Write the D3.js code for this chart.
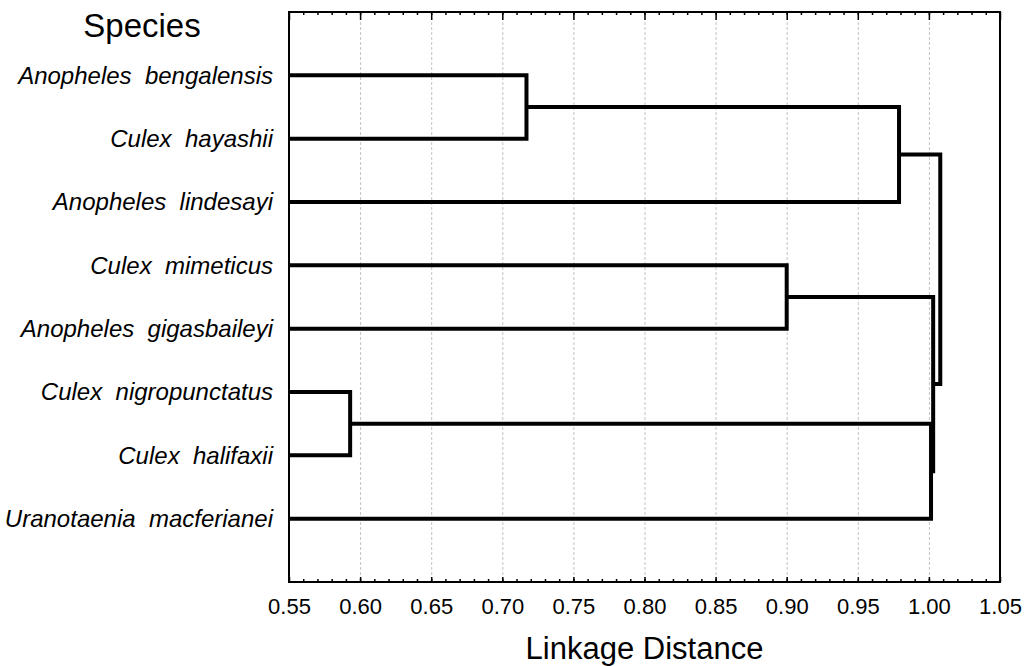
<!DOCTYPE html>
<html>
<head>
<meta charset="utf-8">
<script src="https://cdn.jsdelivr.net/npm/d3@7"></script>
<style>
  body { margin: 0; background: #fff; }
  svg text { font-family: Arial, "Liberation Sans", sans-serif; fill: #000; }
  .grid line { stroke: #c4c4c4; stroke-width: 1; stroke-dasharray: 3,2; }
  .grid path { display: none; }
  .axis path { display: none; }
  .axis line { stroke: #000; stroke-width: 1.5; }
  .link { fill: none; stroke: #000; stroke-width: 4; stroke-linejoin: miter; }
</style>
</head>
<body>
<div id="chart"></div>
<script>
// leaves, top to bottom
var species = [
    "Anopheles  bengalensis",
    "Culex  hayashii",
    "Anopheles  lindesayi",
    "Culex  mimeticus",
    "Anopheles  gigasbaileyi",
    "Culex  nigropunctatus",
    "Culex  halifaxii",
    "Uranotaenia  macferianei"
];

// linkage table: node 8 is the first merge, node 9 the second, ...
var mergeLeft  = [0, 8, 3, 5, 11, 10, 9];
var mergeRight = [1, 2, 4, 6, 7, 12, 13];
var mergeDist  = [0.717, 0.979, 0.900, 0.593, 1.0015, 1.003, 1.008];

var xTicks = [0.55, 0.60, 0.65, 0.70, 0.75, 0.80, 0.85, 0.90, 0.95, 1.00, 1.05];

// margin convention
var margin = {top: 12, right: 27, bottom: 84, left: 289}
  , width = 1027 - margin.left - margin.right
  , height = 666 - margin.top - margin.bottom;

var xScale = d3.scaleLinear()
    .domain([0.55, 1.05])
    .range([0, width]);

var yScale = d3.scaleLinear()
    .domain([0, species.length + 1])
    .range([0, height]);

// build node positions (leaves sit on the left axis)
var nodes = species.map(function(d, i) { return {x: xScale.domain()[0], y: i + 1}; });
mergeDist.forEach(function(d, i) {
    var a = nodes[mergeLeft[i]], b = nodes[mergeRight[i]];
    nodes.push({x: d, y: (a.y + b.y) / 2, a: a, b: b});
});
var clusters = nodes.slice(species.length);

var svg = d3.select("#chart").append("svg")
    .attr("width", 1027)
    .attr("height", 666)
  .append("g")
    .attr("transform", "translate(" + margin.left + "," + margin.top + ")");

// dashed vertical gridlines at the inner major ticks
svg.append("g")
    .attr("class", "grid")
    .call(d3.axisBottom(xScale)
        .tickValues(xTicks.slice(1, -1))
        .tickSize(height)
        .tickFormat(""));

// dendrogram links
svg.selectAll(".link")
    .data(clusters)
  .enter().append("path")
    .attr("class", "link")
    .attr("d", function(d) {
        return "M" + xScale(d.a.x) + "," + yScale(d.a.y) +
               "H" + xScale(d.x) +
               "V" + yScale(d.b.y) +
               "H" + xScale(d.b.x);
    });

// minor ticks every 0.01
var minorTicks = d3.range(56, 105).map(function(d) { return d / 100; });

svg.append("g")
    .attr("class", "axis")
    .call(d3.axisTop(xScale).tickValues(minorTicks).tickSize(-3).tickFormat(""));

svg.append("g")
    .attr("class", "axis")
    .call(d3.axisTop(xScale).tickValues(xTicks).tickSize(-8).tickFormat(""));

svg.append("g")
    .attr("class", "axis")
    .attr("transform", "translate(0," + height + ")")
    .call(d3.axisBottom(xScale).tickValues(minorTicks).tickSize(-3).tickFormat(""));

var xAxis = svg.append("g")
    .attr("class", "axis")
    .attr("transform", "translate(0," + height + ")")
    .call(d3.axisBottom(xScale)
        .tickValues(xTicks)
        .tickSize(-5)
        .tickPadding(16)
        .tickFormat(d3.format(".2f")));
xAxis.selectAll("text").attr("font-size", "22px");

// frame
svg.append("rect")
    .attr("width", width)
    .attr("height", height)
    .attr("fill", "none")
    .attr("stroke", "#000")
    .attr("stroke-width", 2);

// leaf labels
svg.selectAll(".leaf")
    .data(species)
  .enter().append("text")
    .attr("class", "leaf")
    .attr("x", -16)
    .attr("y", function(d, i) { return yScale(i + 1); })
    .attr("dy", "0.35em")
    .attr("text-anchor", "end")
    .attr("font-size", "24px")
    .attr("font-style", "italic")
    .style("white-space", "pre")
    .text(function(d) { return d; });

svg.append("text")
    .attr("x", 142 - margin.left)
    .attr("y", 37 - margin.top)
    .attr("text-anchor", "middle")
    .attr("font-size", "33px")
    .text("Species");

svg.append("text")
    .attr("x", width / 2)
    .attr("y", 659 - margin.top)
    .attr("text-anchor", "middle")
    .attr("font-size", "31px")
    .text("Linkage Distance");
</script>
</body>
</html>
